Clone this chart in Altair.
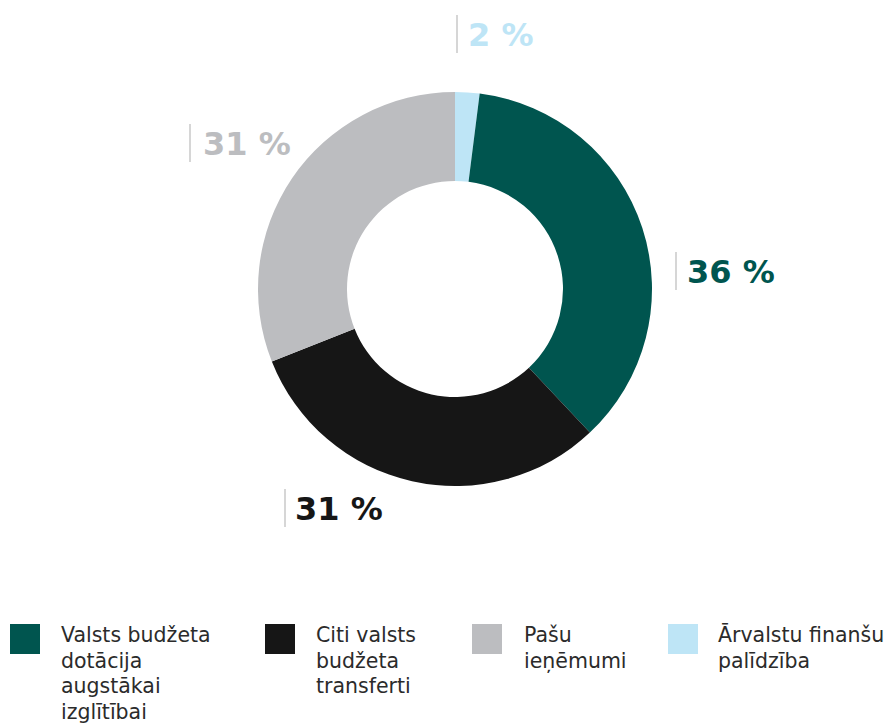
import altair as alt
import pandas as pd

# Data
categories = ["Ārvalstu finanšu\npalīdzība", "Valsts budžeta\ndotācija\naugstākai\nizglītībai",
              "Citi valsts\nbudžeta\ntransferti", "Pašu\nieņēmumi"]
values = [2, 36, 31, 31]
order = [0, 1, 2, 3]
colors = ["#BEE5F6", "#00554F", "#161616", "#BCBDC0"]
label_texts = ["2 %", "36 %", "31 %", "31 %"]

# Layout (chart pixel coordinates)
cx, cy = 447, 281
label_x = [460, 679, 287, 195]
label_y = [38, 275, 512, 147]
line_x = [449, 668, 277, 182]
legend_sq_x = [675, 17, 272, 479]
legend_txt_x = [710, 53, 308, 516]
legend_sq_y = 631
legend_txt_y = 634

df = pd.DataFrame({"cat": categories, "val": values, "ord": order})

color_scale = alt.Scale(domain=categories, range=colors)

arc = alt.Chart(df).mark_arc(outerRadius=197, innerRadius=108).encode(
    theta=alt.Theta("val:Q", stack=True),
    order=alt.Order("ord:Q"),
    color=alt.Color("cat:N", scale=color_scale, legend=None),
    x=alt.value(cx),
    y=alt.value(cy),
)

layers = [arc]
for i, t in enumerate(label_texts):
    ldf = pd.DataFrame({"t": [t], "cat": [categories[i]]})
    txt = alt.Chart(ldf).mark_text(
        align="left", baseline="alphabetic", font="DejaVu Sans", fontWeight="bold",
        fontSize=32, color=colors[i]
    ).encode(text="t:N", x=alt.value(label_x[i]), y=alt.value(label_y[i]))
    rule = alt.Chart(ldf).mark_rule(color="#C8C8C8", strokeWidth=1.5).encode(
        x=alt.value(line_x[i]), y=alt.value(label_y[i] - 31), y2=alt.value(label_y[i] + 7)
    )
    sq = alt.Chart(ldf).mark_square(size=900, opacity=1).encode(
        color=alt.Color("cat:N", scale=color_scale, legend=None),
        x=alt.value(legend_sq_x[i]), y=alt.value(legend_sq_y),
    )
    lt = alt.Chart(ldf).mark_text(
        align="left", baseline="alphabetic", font="DejaVu Sans", fontSize=20.5,
        color="#2b2b2b", lineBreak="\n", lineHeight=25.5
    ).encode(text="cat:N", x=alt.value(legend_txt_x[i]), y=alt.value(legend_txt_y))
    layers += [rule, txt, sq, lt]

chart = alt.layer(*layers).properties(
    width=877, height=715, autosize=alt.AutoSizeParams(type="none"), padding=0
).configure_view(stroke=None)

chart.save("out.html", embed_options={"renderer": "svg", "actions": False})
